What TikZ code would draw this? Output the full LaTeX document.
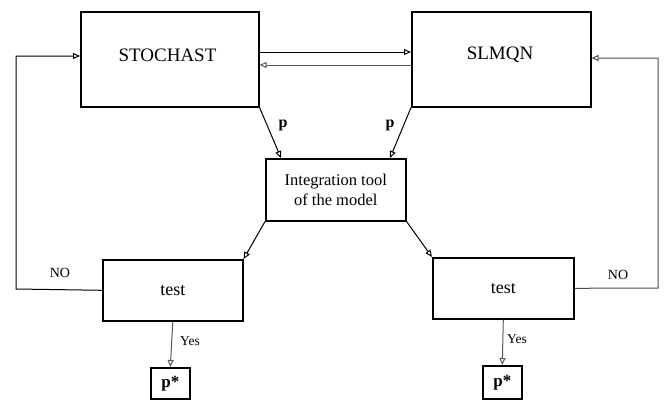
\documentclass[tikz,border=0pt]{standalone}
\usepackage{fontspec}
\setmainfont{Liberation Serif}
\usetikzlibrary{arrows.meta}
\begin{document}
\begin{tikzpicture}[x=1pt,y=-1pt,
  blk/.style={draw,line width=1.6pt,inner sep=0pt,anchor=north west},
  conn/.style={line width=1pt,-{Triangle[open,length=7pt,width=6pt]}},
  lbl/.style={inner sep=0pt,font=\fontsize{14}{16}\selectfont}]
\useasboundingbox (0,0) rectangle (664,399);
% main blocks
\node[blk,minimum width=178pt,minimum height=95pt] (st) at (80,11) {};
\node[font=\fontsize{19}{21}\selectfont] at (167.5,55) {STOCHAST};
\node[blk,minimum width=179pt,minimum height=95pt] (sl) at (411,11) {};
\node[font=\fontsize{19}{21}\selectfont] at (500,55) {SLMQN};
\node[blk,minimum width=140pt,minimum height=62pt,align=center,
  font=\fontsize{16.5}{20}\selectfont] (it) at (265,158)
  {Integration tool\\of the model};
\node[blk,minimum width=140pt,minimum height=61pt,font=\fontsize{18}{20}\selectfont] (tl) at (102,259) {test};
\node[blk,minimum width=141pt,minimum height=61pt,font=\fontsize{18}{20}\selectfont] (tr) at (432,257) {test};
\node[blk,minimum width=39pt,minimum height=31pt,font=\fontsize{17}{18}\selectfont\bfseries] (pl) at (150,367) {p*};
\node[blk,minimum width=39pt,minimum height=33pt,font=\fontsize{17}{18}\selectfont\bfseries] (pr) at (482,365) {p*};
% exchange between the two optimisers
\draw[conn] (st.east |- 0,52) -- (sl.west |- 0,52);
\draw[conn,gray!70!black] (sl.west |- 0,65) -- (st.east |- 0,65);
% parameter vectors passed to the integration tool
\draw[conn] (st.south east) -- (it.north west -| 281,0);
\draw[conn] (sl.south west) -- (it.north east -| 390,0);
\node[lbl,font=\fontsize{16}{18}\selectfont\bfseries] at (283,125) {p};
\node[lbl,font=\fontsize{16}{18}\selectfont\bfseries] at (390,125) {p};
% integration results to the tests
\draw[conn] (it.south west) -- (tl.north east);
\draw[conn] (it.south east) -- (tr.north west);
% failed tests loop back
\coordinate (la) at (16,289);
\coordinate (lb) at (16,56);
\draw[conn] (tl.west) -- (la) -- (lb) -- (st.west |- lb);
\node[lbl] at (60,273) {NO};
\coordinate (ra) at (658,288);
\coordinate (rb) at (658,58);
\draw[conn,gray!60!black] (tr.east) -- (ra) -- (rb) -- (sl.east |- rb);
\node[lbl] at (618,275) {NO};
% successful tests give the result
\draw[conn,gray!70!black] (tl.south) -- (pl.north);
\node[lbl,font=\fontsize{13.5}{15}\selectfont] at (190,341) {Yes};
\draw[conn,gray!70!black] (tr.south) -- (pr.north);
\node[lbl,font=\fontsize{13.5}{15}\selectfont] at (517,339) {Yes};
\end{tikzpicture}
\end{document}
